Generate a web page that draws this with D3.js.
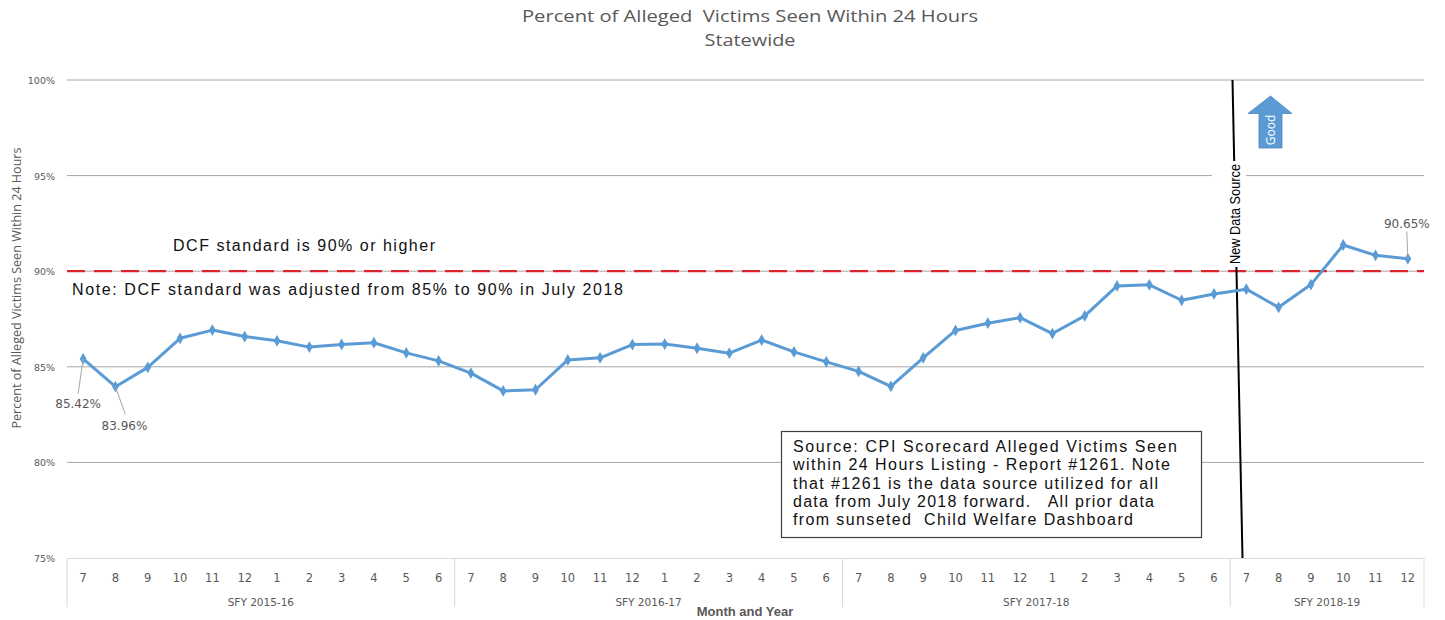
<!DOCTYPE html>
<html><head><meta charset="utf-8">
<script src="https://cdn.jsdelivr.net/npm/d3@7"></script>
<style>body{margin:0;background:#fff}svg{display:block}</style>
</head><body>
<svg id="c" width="1445" height="620"></svg>
<script>
const months = ["7","8","9","10","11","12","1","2","3","4","5","6",
"7","8","9","10","11","12","1","2","3","4","5","6",
"7","8","9","10","11","12","1","2","3","4","5","6",
"7","8","9","10","11","12"];
const fiscalYears = ["SFY 2015-16","SFY 2016-17","SFY 2017-18","SFY 2018-19"];
const fyMonthCounts = [12,12,12,6];
const values = [85.42,83.96,84.97,86.49,86.92,86.58,86.36,86.03,86.17,86.26,85.73,85.31,
84.67,83.74,83.80,85.36,85.47,86.16,86.19,85.97,85.71,86.40,85.78,85.26,
84.76,83.98,85.47,86.90,87.28,87.57,86.74,87.66,89.23,89.29,88.48,88.81,
89.06,88.11,89.30,91.37,90.83,90.65];
const yTicks = [75,80,85,90,95,100];
const standard = 90;
const labeledPoints = [0,1,41];
const sourceLines = ["Source: CPI Scorecard Alleged Victims Seen",
"within 24 Hours Listing - Report #1261. Note",
"that #1261 is the data source utilized for all",
"data from July 2018 forward.   All prior data",
"from sunseted  Child Welfare Dashboard"];

const svg = d3.select("#c");
const grey = "#595959";
const idx = d3.range(values.length);
const x = d3.scaleBand().domain(idx).range([67,1424]).padding(0);
const y = d3.scaleLinear().domain([75,100]).range([558,80]);
const cx = i => x(i) + x.bandwidth()/2;

// title
svg.append("text").attr("x",750).attr("y",22).attr("text-anchor","middle")
  .attr("font-family","Open Sans, Liberation Sans").attr("font-size",16).attr("fill",grey)
  .attr("textLength",456).attr("lengthAdjust","spacingAndGlyphs")
  .attr("xml:space","preserve").style("white-space","pre")
  .text("Percent of Alleged  Victims Seen Within 24 Hours");
svg.append("text").attr("x",750).attr("y",46).attr("text-anchor","middle")
  .attr("font-family","Open Sans, Liberation Sans").attr("font-size",16).attr("fill",grey)
  .attr("textLength",91).attr("lengthAdjust","spacingAndGlyphs")
  .text("Statewide");

// gridlines
svg.append("g").selectAll("line").data(yTicks.filter(t=>t>75)).join("line")
  .attr("x1",67).attr("x2",1424).attr("y1",d=>y(d)).attr("y2",d=>y(d))
  .attr("stroke","#a6a6a6").attr("stroke-width",1);

// y axis labels
svg.append("g").selectAll("text").data(yTicks).join("text")
  .attr("x",55).attr("y",d=>y(d)+4).attr("text-anchor","end")
  .attr("font-family","DejaVu Sans, Verdana").attr("font-size",9.5).attr("fill",grey)
  .text(d=>d+"%");

// y title
svg.append("text").attr("transform","translate(21,288) rotate(-90)").attr("text-anchor","middle")
  .attr("font-family","Open Sans, Liberation Sans").attr("font-size",13).attr("fill",grey)
  .attr("textLength",281).attr("lengthAdjust","spacingAndGlyphs")
  .text("Percent of Alleged Victims Seen Within 24 Hours");

// x axis box
const axG = svg.append("g");
axG.append("line").attr("x1",67).attr("x2",1424).attr("y1",558.5).attr("y2",558.5).attr("stroke","#d9d9d9");
let start = 0;
const bounds = [0];
fyMonthCounts.forEach(n=>{start+=n;bounds.push(start);});
const bx = i => i<values.length ? x(i) : x(values.length-1)+x.bandwidth();
axG.selectAll("line.b").data(bounds).join("line").attr("class","b")
  .attr("x1",bx).attr("x2",bx)
  .attr("y1",558).attr("y2",607).attr("stroke","#d9d9d9");
axG.selectAll("text.m").data(months).join("text").attr("class","m")
  .attr("x",(d,i)=>cx(i)).attr("y",582).attr("text-anchor","middle")
  .attr("font-family","DejaVu Sans, Verdana").attr("font-size",11.5).attr("fill",grey)
  .text(d=>d);
axG.selectAll("text.fy").data(fiscalYears).join("text").attr("class","fy")
  .attr("x",(d,k)=>(bx(bounds[k])+bx(bounds[k+1]))/2)
  .attr("y",606).attr("text-anchor","middle")
  .attr("font-family","DejaVu Sans, Verdana").attr("font-size",10.5).attr("fill",grey)
  .text(d=>d);
svg.append("text").attr("x",745).attr("y",616).attr("text-anchor","middle")
  .attr("font-family","Liberation Sans, Arial").attr("font-size",13).attr("font-weight","bold").attr("fill",grey)
  .text("Month and Year");

// standard line
svg.append("line").attr("x1",67).attr("x2",1424).attr("y1",y(standard)).attr("y2",y(standard))
  .attr("stroke","#d9262b").attr("stroke-width",2.2).attr("stroke-dasharray","18,9");

svg.append("text").attr("x",173).attr("y",251)
  .attr("font-family","Liberation Sans, Arial").attr("font-size",16).attr("fill","#111")
  .attr("textLength",262).attr("lengthAdjust","spacing")
  .text("DCF standard is 90% or higher");
svg.append("text").attr("x",72).attr("y",295)
  .attr("font-family","Liberation Sans, Arial").attr("font-size",16).attr("fill","#111")
  .attr("textLength",551).attr("lengthAdjust","spacing")
  .text("Note:  DCF standard was adjusted from 85% to 90% in July 2018");

// new data source line
svg.append("line").attr("x1",1232.5).attr("y1",80).attr("x2",1242.5).attr("y2",558)
  .attr("stroke","#000").attr("stroke-width",2);
svg.append("rect").attr("x",1212).attr("y",161).attr("width",34).attr("height",106).attr("fill","#fff");
svg.append("text").attr("transform","translate(1240,214) rotate(-90)").attr("text-anchor","middle")
  .attr("font-family","Liberation Sans Narrow, Liberation Sans, Arial").attr("font-size",14).attr("fill","#000")
  .attr("textLength",100).attr("lengthAdjust","spacingAndGlyphs")
  .text("New Data Source");

// good arrow
const ag = svg.append("g");
ag.append("path").attr("d","M1270.5,96 L1292,113.5 L1282,113.5 L1282,148 L1259,148 L1259,113.5 L1248,113.5 Z")
  .attr("fill","#5b9bd5").attr("stroke","#4a85bd").attr("stroke-width",0.8);
ag.append("text").attr("transform","translate(1275,130) rotate(-90)").attr("text-anchor","middle")
  .attr("font-family","Open Sans, Liberation Sans").attr("font-size",12).attr("fill","#fff")
  .text("Good");

// data line
const line = d3.line().x((d,i)=>cx(i)).y(d=>y(d));
svg.append("path").datum(values).attr("d",line).attr("fill","none")
  .attr("stroke","#5b9bd5").attr("stroke-width",3).attr("stroke-linejoin","round");
svg.append("g").selectAll("path").data(values).join("path")
  .attr("transform",(d,i)=>`translate(${cx(i)},${y(d)})`)
  .attr("d",d3.symbol(d3.symbolDiamond,40)).attr("fill","#5b9bd5");

// data labels
const lblOffsets = {0:{lx:-5,ly:35,tx:-5,ty:49},1:{lx:10,ly:28,tx:9,ty:43},41:{lx:-1,ly:-27,tx:-1,ty:-31}};
const lg = svg.append("g");
labeledPoints.forEach(i=>{
  const o = lblOffsets[i];
  lg.append("line").attr("x1",cx(i)).attr("y1",y(values[i])).attr("x2",cx(i)+o.lx).attr("y2",y(values[i])+o.ly)
    .attr("stroke","#a6a6a6").attr("stroke-width",1);
  lg.append("text").attr("x",cx(i)+o.tx).attr("y",y(values[i])+o.ty).attr("text-anchor","middle")
    .attr("font-family","DejaVu Sans, Verdana").attr("font-size",12).attr("fill",grey)
    .text(values[i].toFixed(2)+"%");
});

// source box
const sourceWidths = [384,377,365,361,340];
const sb = svg.append("g");
sb.append("rect").attr("x",781.5).attr("y",431.5).attr("width",420).attr("height",106)
  .attr("fill","#fff").attr("stroke","#404040").attr("stroke-width",1.2);
sb.selectAll("text").data(sourceLines).join("text")
  .attr("x",793).attr("y",(d,i)=>452+i*18.3)
  .attr("font-family","Liberation Sans, Arial").attr("font-size",16).attr("fill","#111")
  .attr("textLength",(d,i)=>sourceWidths[i]).attr("lengthAdjust","spacing")
  .attr("xml:space","preserve").style("white-space","pre")
  .text(d=>d);
</script>
</body></html>
